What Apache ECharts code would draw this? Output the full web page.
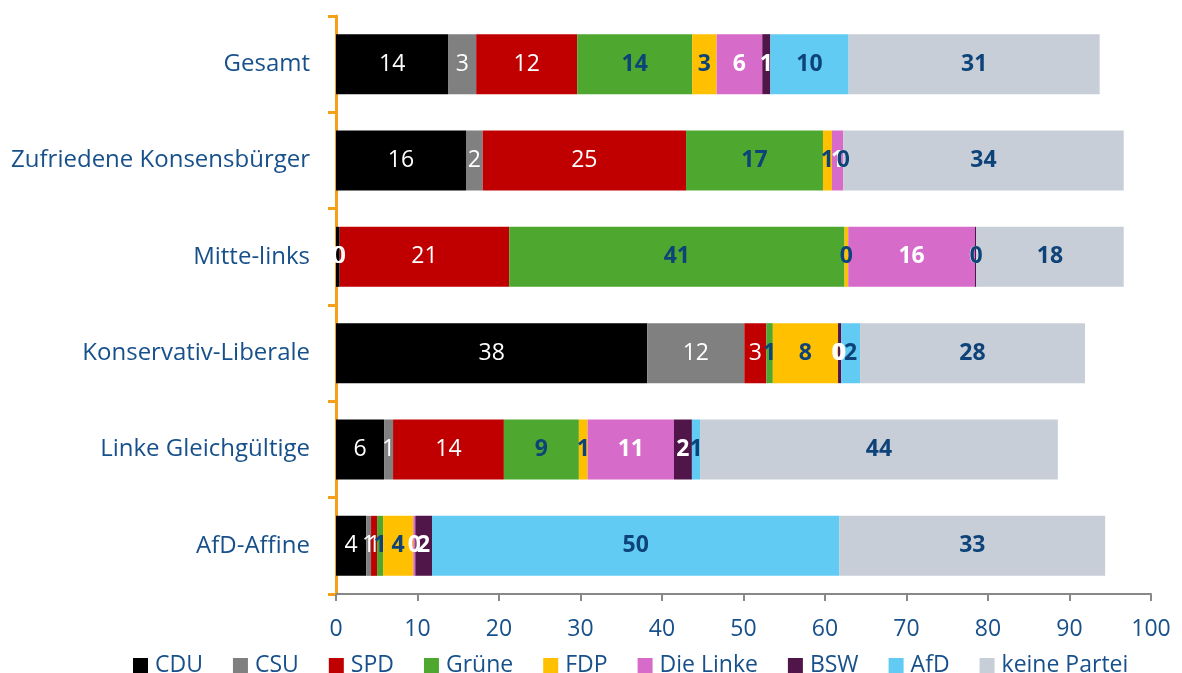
<!DOCTYPE html>
<html>
<head>
<meta charset="utf-8">
<script src="https://cdn.jsdelivr.net/npm/echarts@6/dist/echarts.min.js"></script>
<style>
  html, body { margin: 0; padding: 0; background: #ffffff; }
  #chart { width: 1182px; height: 673px; }
</style>
</head>
<body>
<div id="chart"></div>
<script>
const categories = ['Gesamt', 'Zufriedene Konsensbürger', 'Mitte-links', 'Konservativ-Liberale', 'Linke Gleichgültige', 'AfD-Affine'];
const seriesNames = ['CDU', 'CSU', 'SPD', 'Grüne', 'FDP', 'Die Linke', 'BSW', 'AfD', 'keine Partei'];

const cdu    = [13.8, 15.95, 0.45, 38.2, 5.9, 3.7];
const csu    = [3.4, 2.05, 0, 11.9, 1.1, 0.6];
const spd    = [12.4, 24.95, 20.8, 2.7, 13.6, 0.74];
const gruene = [14.1, 16.8, 41.15, 0.8, 9.2, 0.74];
const fdp    = [3.0, 1.1, 0.45, 8.0, 1.07, 3.7];
const linke  = [5.6, 1.4, 15.55, 0, 10.6, 0.25];
const bsw    = [1.0, 0, 0.15, 0.4, 2.2, 2.05];
const afd    = [9.6, 0, 0, 2.3, 1.0, 50.0];
const keine  = [30.8, 34.4, 18.1, 27.6, 43.9, 32.6];

const xTicks = [0, 10, 20, 30, 40, 50, 60, 70, 80, 90, 100];

const values = [cdu, csu, spd, gruene, fdp, linke, bsw, afd, keine];
const colors = ['#000000', '#808080', '#c00000', '#4ea72e', '#ffc000', '#d76bca', '#501549', '#61cbf3', '#c7ced7'];
const labelColors = ['#ffffff', '#ffffff', '#ffffff', '#0d4379', '#0d4379', '#ffffff', '#ffffff', '#0d4379', '#0d4379'];
const labelWeights = ['normal', 'normal', 'normal', 'bold', 'bold', 'bold', 'bold', 'bold', 'bold'];

const textColor = '#17508a';
const fontFamily = '"Open Sans", "Noto Sans", sans-serif';

const chart = echarts.init(document.getElementById('chart'), null, { renderer: 'canvas' });

const series = seriesNames.map((name, i) => ({
  name: name,
  type: 'bar',
  stack: 'total',
  barWidth: 60,
  data: values[i],
  itemStyle: { color: colors[i] },
  label: {
    show: true,
    position: 'inside',
    color: labelColors[i],
    fontSize: 23,
    fontWeight: labelWeights[i],
    fontFamily: fontFamily,
    formatter: p => String(Math.round(p.value))
  },
  emphasis: { disabled: true },
  animation: false
}));

chart.setOption({
  animation: false,
  textStyle: { fontFamily: fontFamily },
  grid: { left: 336, right: 31, top: 16, bottom: 79, containLabel: false },
  legend: {
    data: seriesNames,
    left: 128,
    top: 649,
    itemWidth: 15,
    itemHeight: 15,
    itemGap: 30,
    icon: 'rect',
    textStyle: { color: textColor, fontSize: 23, fontFamily: fontFamily, padding: [0, 0, 0, 2] }
  },
  xAxis: {
    type: 'value',
    min: 0,
    max: 100,
    interval: 10,
    axisLine: { show: true, lineStyle: { color: '#888888', width: 2 } },
    axisTick: { show: true, length: 7, lineStyle: { color: '#888888', width: 2 } },
    splitLine: { show: false },
    axisLabel: {
      color: textColor, fontSize: 23, fontFamily: fontFamily, margin: 24,
      formatter: v => xTicks.includes(v) ? String(v) : ''
    }
  },
  yAxis: {
    type: 'category',
    data: categories,
    inverse: true,
    axisLine: { show: true, lineStyle: { color: '#f5a01a', width: 3 } },
    axisTick: { show: true, length: 8, lineStyle: { color: '#f5a01a', width: 3 } },
    axisLabel: { color: textColor, fontSize: 24, fontFamily: fontFamily, margin: 26 }
  },
  series: series
});
</script>
</body>
</html>
